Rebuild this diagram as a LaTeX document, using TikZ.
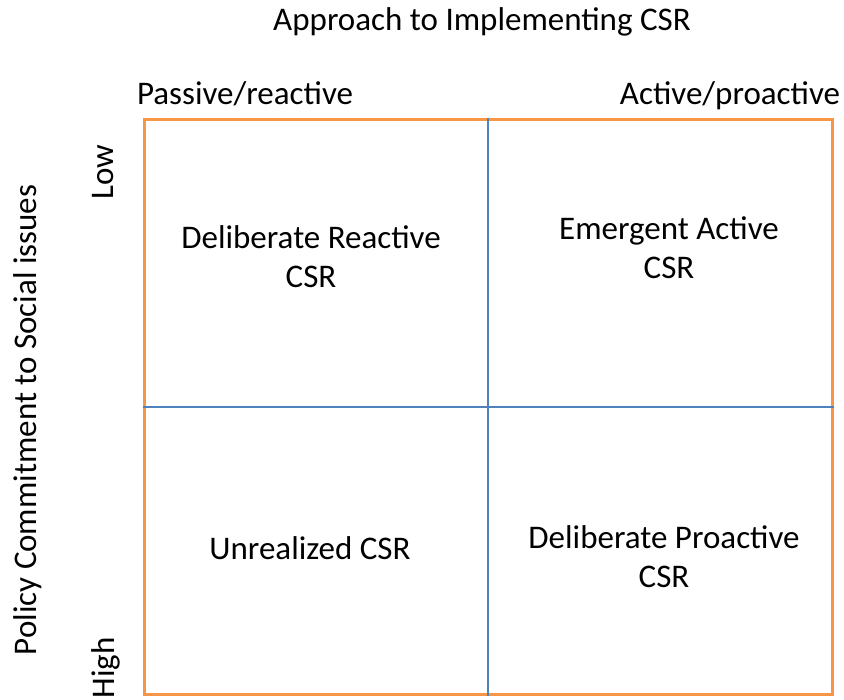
\documentclass[tikz,border=0pt]{standalone}
\usepackage{fontspec}
\setmainfont{Carlito}
\definecolor{frameorange}{HTML}{F79646}
\definecolor{gridblue}{HTML}{4F81BD}
\begin{document}
\begin{tikzpicture}[x=1pt,y=-1pt,
    lbl/.style={font=\fontsize{33}{39}\selectfont, inner sep=0pt, align=center}]
    \useasboundingbox (0,0) rectangle (844,700);
    \node (frame) at (488,407) [draw=frameorange, line width=3pt, minimum width=688pt,
    minimum height=574pt, inner sep=0pt] {};
    \draw[gridblue, line width=1.2pt] (frame.north) -- (frame.south);
    \draw[gridblue, line width=1.2pt] (frame.west) -- (frame.east);
    \node (title) at (482,22) [lbl] {Approach to Implementing CSR};
    \node (passive) at (245,94) [lbl] {Passive/reactive};
    \node (active) at (730,96) [lbl] {Active/proactive};
    \node (low) at (103,172) [lbl, rotate=90] {Low};
    \node (high) at (106,668) [lbl, rotate=90] {High};
    \node (policy) at (28,420) [lbl, rotate=90] {Policy Commitment to Social issues};
    \node (delreact) at (311,257) [lbl] {Deliberate Reactive\\CSR};
    \node (emergent) at (669,248) [lbl] {Emergent Active\\CSR};
    \node (unreal) at (310,548) [lbl] {Unrealized CSR};
    \node (delpro) at (664,557) [lbl] {Deliberate Proactive\\CSR};
\end{tikzpicture}
\end{document}
